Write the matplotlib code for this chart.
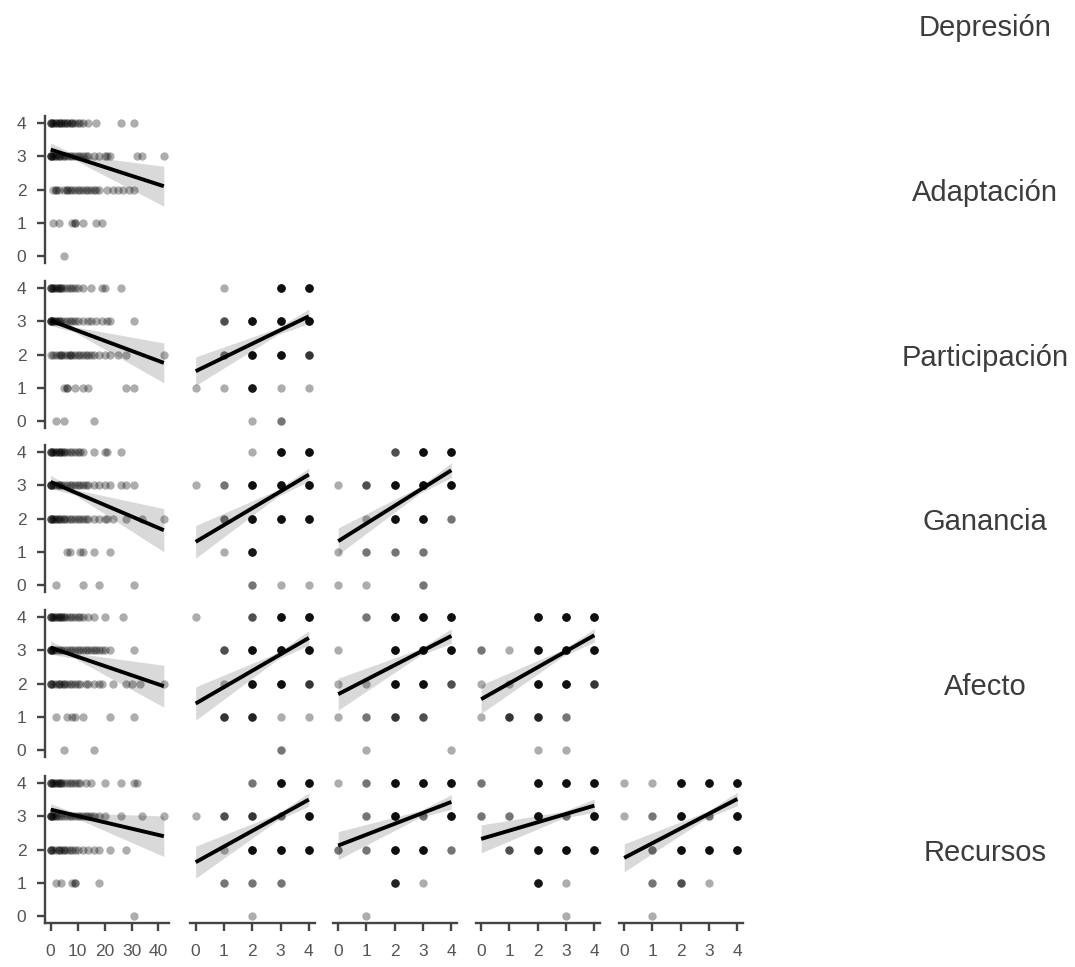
import numpy as np
import matplotlib
matplotlib.use("Agg")
import matplotlib.pyplot as plt

plt.rcParams["font.family"] = ["Liberation Sans", "DejaVu Sans"]

variables = ["Depresión", "Adaptación", "Participación", "Ganancia", "Afecto", "Recursos"]
dep_ticks = [0, 10, 20, 30, 40]
ord_ticks = [0, 1, 2, 3, 4]
levels = [4, 3, 2, 1, 0]

# Depresión scores observed at each level of the row variable
dep_adaptacion = {
    4: [0, 0, 0, 1, 1, 2, 2, 3, 3, 4, 4, 5, 5, 6, 6, 7, 8, 8, 9, 10, 11, 12, 14, 17, 26, 31],
    3: [0, 0, 0, 0, 1, 1, 2, 2, 3, 3, 4, 5, 5, 6, 7, 8, 9, 10, 11, 12, 13, 14, 16, 18, 20, 21, 22, 32, 34, 42],
    2: [1, 2, 2, 3, 5, 6, 6, 7, 8, 9, 10, 11, 12, 13, 14, 15, 16, 17, 18, 21, 23, 25, 27, 29, 31],
    1: [1, 3, 8, 9, 9, 12, 17, 19],
    0: [5],
}
dep_participacion = {
    4: [0, 0, 0, 1, 1, 2, 2, 3, 3, 4, 4, 5, 6, 7, 8, 9, 10, 12, 15, 19, 20, 26],
    3: [0, 0, 0, 0, 1, 1, 2, 2, 3, 3, 4, 5, 6, 7, 8, 9, 10, 12, 14, 15, 17, 19, 21, 22, 31],
    2: [0, 1, 2, 3, 4, 4, 5, 6, 7, 7, 8, 9, 10, 11, 12, 13, 14, 15, 16, 18, 20, 22, 25, 28, 42],
    1: [5, 6, 6, 9, 12, 14, 28, 31],
    0: [2, 5, 16],
}
dep_ganancia = {
    4: [0, 0, 0, 1, 1, 2, 2, 3, 3, 4, 4, 5, 5, 6, 7, 8, 9, 10, 11, 12, 16, 20, 21, 26],
    3: [0, 0, 0, 0, 1, 2, 3, 3, 4, 5, 6, 7, 8, 9, 10, 11, 12, 13, 14, 16, 18, 20, 22, 26, 28, 31],
    2: [0, 0, 0, 1, 1, 2, 2, 3, 3, 4, 5, 5, 6, 7, 8, 9, 10, 11, 12, 13, 14, 16, 18, 20, 21, 23, 28, 34, 42],
    1: [6, 7, 11, 12, 16, 22],
    0: [2, 12, 18, 31],
}
dep_afecto = {
    4: [0, 0, 0, 1, 1, 2, 2, 3, 3, 4, 4, 5, 5, 6, 7, 8, 9, 10, 11, 12, 14, 16, 20, 27],
    3: [0, 0, 0, 0, 1, 1, 2, 3, 4, 5, 6, 7, 8, 9, 10, 11, 12, 13, 14, 15, 16, 17, 18, 19, 20, 22, 31],
    2: [0, 0, 0, 1, 2, 3, 3, 4, 5, 5, 6, 7, 8, 9, 10, 11, 13, 14, 16, 18, 19, 23, 28, 30, 33, 42],
    1: [2, 6, 8, 9, 12, 22, 31],
    0: [5, 16],
}
dep_recursos = {
    4: [0, 0, 0, 1, 1, 2, 2, 3, 3, 4, 4, 5, 6, 7, 8, 9, 10, 11, 13, 15, 20, 26, 31, 32],
    3: [0, 0, 0, 0, 1, 1, 2, 2, 3, 4, 5, 6, 7, 8, 9, 10, 11, 12, 13, 14, 15, 16, 18, 20, 26, 34, 42],
    2: [0, 0, 0, 1, 2, 3, 3, 4, 5, 5, 6, 7, 8, 9, 10, 12, 14, 16, 18, 22, 28],
    1: [2, 4, 8, 9, 9, 18],
    0: [31],
}

# respondents per cell: rows are y = 4..0, columns are x = 0..4
cnt_participacion_adaptacion = [[0, 1, 0, 7, 7], [0, 3, 7, 7, 7], [0, 2, 7, 7, 4], [1, 1, 6, 1, 1], [0, 0, 1, 2, 0]]
cnt_ganancia_adaptacion = [[0, 0, 1, 7, 7], [1, 2, 7, 7, 7], [0, 2, 7, 7, 7], [0, 1, 6, 0, 0], [0, 0, 2, 1, 1]]
cnt_ganancia_participacion = [[0, 0, 3, 7, 7], [1, 3, 7, 7, 7], [0, 1, 7, 7, 2], [1, 2, 2, 2, 0], [1, 1, 0, 2, 0]]
cnt_afecto_adaptacion = [[1, 0, 3, 7, 7], [0, 3, 7, 7, 7], [0, 1, 7, 7, 4], [0, 4, 5, 1, 1], [0, 0, 0, 2, 0]]
cnt_afecto_participacion = [[0, 2, 7, 7, 7], [1, 0, 7, 7, 7], [1, 1, 7, 7, 3], [1, 2, 4, 3, 0], [0, 1, 0, 0, 1]]
cnt_afecto_ganancia = [[0, 0, 7, 7, 7], [2, 1, 7, 7, 7], [1, 1, 7, 7, 4], [1, 4, 5, 2, 0], [0, 0, 1, 1, 0]]
cnt_recursos_adaptacion = [[0, 0, 2, 7, 7], [1, 3, 4, 2, 7], [0, 1, 7, 7, 7], [0, 2, 2, 2, 0], [0, 0, 1, 0, 0]]
cnt_recursos_participacion = [[1, 2, 7, 7, 7], [0, 2, 7, 2, 7], [2, 2, 7, 7, 2], [0, 0, 5, 1, 0], [0, 1, 0, 0, 0]]
cnt_recursos_ganancia = [[2, 0, 7, 7, 7], [2, 2, 7, 2, 7], [0, 3, 7, 7, 7], [0, 0, 6, 1, 0], [0, 0, 0, 1, 0]]
cnt_recursos_afecto = [[1, 1, 7, 7, 7], [1, 2, 7, 2, 7], [0, 2, 7, 7, 7], [0, 2, 3, 1, 0], [0, 1, 0, 0, 0]]

# linear fits: x from, x to, fitted y at both ends,
# 95% band half-width at left / centre / right, x of the narrowest point
fit_adaptacion_depresion = [0, 42, 3.20, 2.10, 0.20, 0.08, 0.60, 9]
fit_participacion_depresion = [0, 42, 3.02, 1.75, 0.15, 0.08, 0.60, 9]
fit_ganancia_depresion = [0, 42, 3.10, 1.65, 0.20, 0.08, 0.65, 9]
fit_afecto_depresion = [0, 42, 3.08, 1.92, 0.20, 0.08, 0.63, 9]
fit_recursos_depresion = [0, 42, 3.20, 2.40, 0.18, 0.07, 0.61, 9]
fit_participacion_adaptacion = [0, 4, 1.50, 3.15, 0.43, 0.10, 0.22, 2.9]
fit_ganancia_adaptacion = [0, 4, 1.30, 3.32, 0.49, 0.10, 0.20, 2.9]
fit_ganancia_participacion = [0, 4, 1.32, 3.45, 0.40, 0.10, 0.22, 2.9]
fit_afecto_adaptacion = [0, 4, 1.40, 3.37, 0.50, 0.10, 0.22, 2.9]
fit_afecto_participacion = [0, 4, 1.68, 3.43, 0.48, 0.10, 0.22, 2.9]
fit_afecto_ganancia = [0, 4, 1.53, 3.45, 0.43, 0.10, 0.20, 2.9]
fit_recursos_adaptacion = [0, 4, 1.62, 3.50, 0.48, 0.10, 0.20, 2.9]
fit_recursos_participacion = [0, 4, 2.12, 3.43, 0.42, 0.10, 0.22, 2.9]
fit_recursos_ganancia = [0, 4, 2.32, 3.32, 0.42, 0.10, 0.20, 2.9]
fit_recursos_afecto = [0, 4, 1.75, 3.52, 0.42, 0.10, 0.20, 2.9]


def dep_points(table):
    xs, ys = [], []
    for lev in levels:
        xs += table[lev]
        ys += [lev] * len(table[lev])
    return np.array(xs, float), np.array(ys, float)


def grid_points(grid):
    xs, ys = [], []
    for i, lev in enumerate(levels):
        for x, n in enumerate(grid[i]):
            xs += [x] * n
            ys += [lev] * n
    return np.array(xs, float), np.array(ys, float)


panels = {
    (1, 0): (dep_points(dep_adaptacion), fit_adaptacion_depresion),
    (2, 0): (dep_points(dep_participacion), fit_participacion_depresion),
    (3, 0): (dep_points(dep_ganancia), fit_ganancia_depresion),
    (4, 0): (dep_points(dep_afecto), fit_afecto_depresion),
    (5, 0): (dep_points(dep_recursos), fit_recursos_depresion),
    (2, 1): (grid_points(cnt_participacion_adaptacion), fit_participacion_adaptacion),
    (3, 1): (grid_points(cnt_ganancia_adaptacion), fit_ganancia_adaptacion),
    (3, 2): (grid_points(cnt_ganancia_participacion), fit_ganancia_participacion),
    (4, 1): (grid_points(cnt_afecto_adaptacion), fit_afecto_adaptacion),
    (4, 2): (grid_points(cnt_afecto_participacion), fit_afecto_participacion),
    (4, 3): (grid_points(cnt_afecto_ganancia), fit_afecto_ganancia),
    (5, 1): (grid_points(cnt_recursos_adaptacion), fit_recursos_adaptacion),
    (5, 2): (grid_points(cnt_recursos_participacion), fit_recursos_participacion),
    (5, 3): (grid_points(cnt_recursos_ganancia), fit_recursos_ganancia),
    (5, 4): (grid_points(cnt_recursos_afecto), fit_recursos_afecto),
}

W, H = 1075, 967
fig = plt.figure(figsize=(W / 100, H / 100), dpi=100)

col_left = [45, 190, 332.5, 475.5, 618.5]
row_top = [-48.7, 116.3, 281.3, 445.3, 610.3, 776.3]
ax_w, ax_h = 124.5, 146.5
axis_col = "#444444"
tick_col = "#555555"


def draw_panel(ax, pts, fit):
    xs, ys = pts
    ax.scatter(xs, ys, s=36, c="black", alpha=0.32, linewidths=0, zorder=2)
    x0, x1, y0, y1, h0, hc, h1, xc = fit
    slope = (y1 - y0) / (x1 - x0)
    bx = np.array([x0, xc, x1], float)
    by = y0 + slope * (bx - x0)
    bh = np.array([h0, hc, h1])
    ax.fill_between(bx, by - bh, by + bh, color="black", alpha=0.15, linewidth=0, zorder=3)
    ax.plot([x0, x1], [y0, y1], color="black", lw=2.8, solid_capstyle="butt", zorder=4)


for (r, c), (pts, fit) in panels.items():
    rect = [col_left[c] / W, 1 - (row_top[r] + ax_h) / H, ax_w / W, ax_h / H]
    ax = fig.add_axes(rect)
    draw_panel(ax, pts, fit)
    ax.set_ylim(-0.2, 4.2)
    if c == 0:
        ax.set_xlim(-2.1, 44.1)
        ax.set_xticks(dep_ticks)
    else:
        ax.set_xlim(-0.2, 4.2)
        ax.set_xticks(ord_ticks)
    ax.set_yticks(ord_ticks)
    for side in ["top", "right"]:
        ax.spines[side].set_visible(False)
    ax.spines["left"].set_visible(c == 0)
    ax.spines["bottom"].set_visible(r == 5)
    for side in ["left", "bottom"]:
        ax.spines[side].set_color(axis_col)
        ax.spines[side].set_linewidth(1.7)
    ax.tick_params(axis="y", left=(c == 0), labelleft=(c == 0), length=5.5, width=1.7,
                   color=axis_col, labelcolor=tick_col, labelsize=12.5, pad=8)
    ax.tick_params(axis="x", bottom=(r == 5), labelbottom=(r == 5), length=5.5, width=1.7,
                   color=axis_col, labelcolor=tick_col, labelsize=12.5, pad=10)
    ax.patch.set_alpha(0)

for r, name in enumerate(variables):
    yc = row_top[r] + ax_h / 2 + 3
    fig.text(985 / W, 1 - yc / H, name, ha="center", va="center",
             fontsize=21, color="#3c3c3c")

fig.savefig("out.png", dpi=100)
